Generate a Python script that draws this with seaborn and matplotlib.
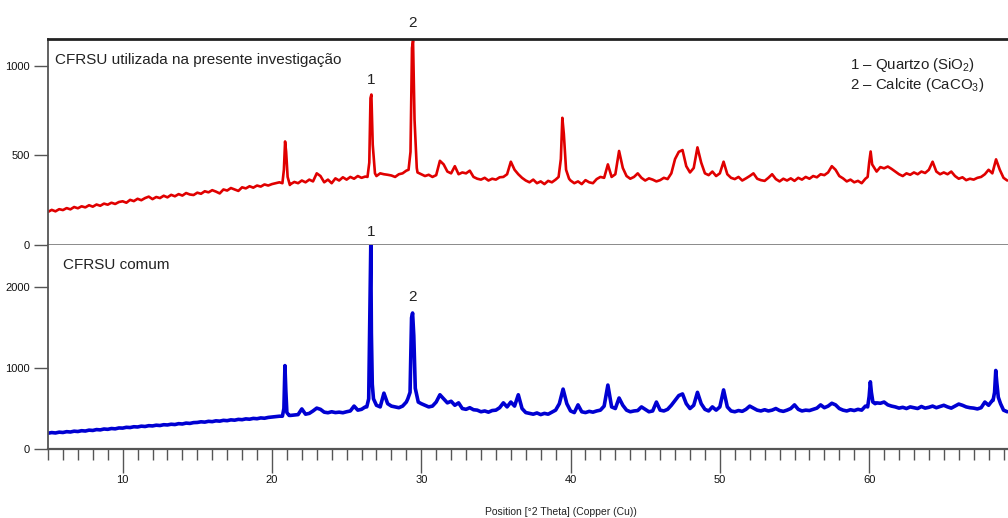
import numpy as np
import pandas as pd
import matplotlib
matplotlib.use("Agg")
import matplotlib.pyplot as plt
import seaborn as sns
from matplotlib import font_manager as fm
from matplotlib.ticker import FixedLocator, MultipleLocator

# ---------------- data ----------------
THETA_START = 5.0      # first sampled 2-theta position
THETA_STEP = 0.25      # sampling interval of the baseline lists

# red pattern: CFRSU utilizada na presente investigação (counts every 0.25°)
red_base = [
    185, 196, 188, 200, 195, 206, 199, 212, 205, 216, 210, 222, 214, 226, 219, 231, 225, 236, 229, 240,
    244, 236, 252, 245, 258, 250, 262, 270, 256, 268, 262, 275, 266, 280, 272, 284, 276, 290, 282, 279,
    292, 286, 300, 294, 306, 298, 288, 310, 304, 318, 310, 302, 322, 316, 328, 320, 332, 326, 338, 332,
    340, 345, 350, 355, 360, 340, 352, 345, 360, 350, 365, 355, 400, 385, 350, 365, 345, 372, 360, 378,
    365, 380, 370, 385, 375, 382, 390, 390, 385, 400, 395, 392, 388, 380, 395, 400, 415, 430, 430, 405,
    395, 385, 392, 380, 390, 470, 450, 410, 400, 440, 395, 405, 400, 415, 380, 370, 365, 375, 360, 370,
    365, 378, 380, 395, 465, 420, 395, 375, 360, 350, 365, 345, 355, 340, 358, 350, 365, 380, 380, 375,
    360, 345, 355, 340, 362, 350, 345, 368, 380, 375, 450, 380, 395, 525, 430, 385, 370, 380, 400, 375,
    360, 372, 365, 355, 362, 375, 368, 400, 480, 520, 530, 440, 405, 430, 545, 460, 400, 390, 410, 385,
    400, 465, 395, 375, 368, 380, 360, 372, 385, 400, 370, 362, 358, 375, 395, 368, 355, 370, 360, 372,
    358, 375, 365, 380, 370, 385, 378, 395, 390, 405, 440, 420, 385, 372, 355, 365, 350, 358, 345, 370,
    460, 440, 410, 435, 428, 438, 425, 410, 395, 385, 400, 392, 405, 395, 410, 402, 420, 465, 410, 395,
    405, 395, 410, 385, 370, 378, 362, 370, 365, 375, 380, 395, 420, 400, 478, 420, 375, 360,
]
# sharp reflections of the red pattern: (2-theta list, counts list)
red_peaks = [
    ([20.70, 20.80, 20.88, 20.95, 21.05, 21.20], [345, 420, 578, 520, 380, 335]),
    ([26.40, 26.52, 26.60, 26.66, 26.75, 26.90], [380, 460, 820, 840, 560, 400]),
    ([29.15, 29.28, 29.38, 29.45, 29.55, 29.70], [420, 520, 1100, 1140, 700, 430]),
    ([39.20, 39.35, 39.45, 39.55, 39.70, 39.90], [380, 480, 710, 620, 420, 370]),
    ([59.90, 60.00, 60.10, 60.20, 60.35], [380, 460, 522, 450, 430]),
]

# blue pattern: CFRSU comum (counts every 0.25°)
blue_base = [
    195, 203, 198, 208, 204, 214, 210, 220, 216, 226, 222, 233, 229, 240, 236, 247, 243, 253, 249, 260,
    258, 268, 265, 275, 272, 282, 278, 288, 285, 294, 290, 300, 297, 306, 302, 313, 309, 320, 316, 326,
    328, 336, 332, 342, 338, 348, 344, 354, 350, 360, 356, 366, 362, 372, 368, 378, 374, 384, 380, 390,
    395, 400, 405, 410, 420, 415, 420, 425, 495, 430, 440, 470, 505, 490, 455, 448, 460, 450, 455, 448,
    460, 470, 530, 480, 490, 520, 600, 600, 560, 520, 690, 560, 530, 520, 510, 530, 580, 600, 600, 600,
    560, 540, 520, 530, 580, 670, 620, 570, 590, 540, 570, 500, 490, 510, 485, 480, 460, 470, 455, 475,
    480, 510, 570, 520, 580, 530, 670, 500, 450, 440, 430, 445, 425, 440, 430, 455, 480, 560, 740, 560,
    470, 450, 545, 460, 450, 465, 455, 470, 480, 530, 790, 520, 500, 630, 540, 480, 460, 470, 475, 520,
    490, 460, 470, 580, 480, 470, 490, 540, 600, 660, 680, 560, 500, 540, 700, 560, 490, 470, 520, 480,
    520, 730, 520, 470, 460, 475, 465, 490, 530, 505, 480, 470, 485, 470, 480, 500, 475, 465, 480, 500,
    545, 490, 470, 480, 475, 490, 505, 545, 510, 530, 565, 545, 500, 480, 470, 485, 475, 490, 480, 530,
    600, 600, 570, 565, 580, 545, 530, 520, 505, 515, 500, 520, 510, 500, 525, 505, 515, 530, 510, 525,
    540, 520, 505, 530, 555, 540, 520, 510, 505, 495, 510, 580, 540, 600, 970, 640, 480, 460,
]
blue_peaks = [
    ([20.70, 20.80, 20.87, 20.93, 21.00, 21.15], [405, 500, 1030, 720, 450, 415]),
    ([26.35, 26.48, 26.56, 26.62, 26.66, 26.72, 26.80, 27.00], [520, 620, 1720, 2520, 1430, 800, 620, 540]),
    ([29.10, 29.25, 29.35, 29.42, 29.50, 29.60, 29.80], [620, 700, 1620, 1680, 1400, 750, 580]),
    ([59.90, 60.00, 60.08, 60.15, 60.25, 60.40], [520, 650, 830, 700, 580, 560]),
    ([68.30, 68.40, 68.48, 68.55, 68.65, 68.80], [600, 700, 970, 820, 640, 560]),
]

# peak identification labels: (2-theta, counts position, text)
red_labels = [(26.64, 920, "1"), (29.42, 1240, "2")]
blue_labels = [(26.64, 2680, "1"), (29.42, 1880, "2")]

x_ticks = [10, 20, 30, 40, 50, 60]
red_yticks = [0, 500, 1000]
blue_yticks = [0, 1000, 2000]
legend_lines = ["1 \u2013 Quartzo (SiO$_{2}$)", "2 \u2013 Calcite (CaCO$_{3}$)"]
red_title = "CFRSU utilizada na presente investigação"
blue_title = "CFRSU comum"
x_label = "Position [°2 Theta] (Copper (Cu))"


def build(base, peaks):
    x = THETA_START + THETA_STEP * np.arange(len(base))
    y = np.asarray(base, dtype=float)
    keep = np.ones(len(x), dtype=bool)
    for px, _ in peaks:
        keep &= ~((x >= px[0]) & (x <= px[-1]))
    xs = np.concatenate([x[keep]] + [np.asarray(p[0], float) for p in peaks])
    ys = np.concatenate([y[keep]] + [np.asarray(p[1], float) for p in peaks])
    order = np.argsort(xs, kind="stable")
    return pd.DataFrame({"theta": xs[order], "counts": ys[order]})


red_df = build(red_base, red_peaks)
blue_df = build(blue_base, blue_peaks)

# ---------------- style ----------------
sns.set_theme(style="white")
names = {f.name for f in fm.fontManager.ttflist}
narrow = "Liberation Sans Narrow" if "Liberation Sans Narrow" in names else "Liberation Sans"
plt.rcParams["font.family"] = ["Liberation Sans", "DejaVu Sans"]
plt.rcParams["mathtext.fontset"] = "custom"
plt.rcParams["mathtext.rm"] = "Liberation Sans"
plt.rcParams["mathtext.it"] = "Liberation Sans:italic"

W, H = 1008, 518
fig = plt.figure(figsize=(W / 100, H / 100), dpi=100)
left = 48 / W
ax_top = fig.add_axes([left, (H - 245) / H, 1 - left, 206 / H])
ax_bot = fig.add_axes([left, (H - 449) / H, 1 - left, 204 / H])

sns.lineplot(data=red_df, x="theta", y="counts", ax=ax_top, color="#e00000",
             linewidth=1.9, sort=False, estimator=None)
sns.lineplot(data=blue_df, x="theta", y="counts", ax=ax_bot, color="#0000d2",
             linewidth=2.6, sort=False, estimator=None)

XMIN, XMAX = 5.0, 69.3
for ax in (ax_top, ax_bot):
    ax.set_xlim(XMIN, XMAX)
    ax.set_xlabel("")
    ax.set_ylabel("")
    ax.spines["right"].set_visible(False)
    ax.spines["left"].set_color("#555555")
    ax.spines["left"].set_linewidth(1.3)
    ax.tick_params(axis="y", direction="out", length=10, width=1.0, color="#555555",
                   pad=3, labelsize=8, left=True)

ax_top.set_ylim(0, 1150)
ax_top.yaxis.set_major_locator(FixedLocator(red_yticks))
ax_top.set_yticklabels([str(v) for v in red_yticks], fontfamily=narrow, fontsize=8, color="#111111")
ax_top.spines["top"].set_color("#222222")
ax_top.spines["top"].set_linewidth(2.0)
ax_top.spines["bottom"].set_color("#777777")
ax_top.spines["bottom"].set_linewidth(1.2)
ax_top.tick_params(axis="x", bottom=False, labelbottom=False)

ax_bot.set_ylim(0, 2520)
ax_bot.yaxis.set_major_locator(FixedLocator(blue_yticks))
ax_bot.set_yticklabels([str(v) for v in blue_yticks], fontfamily=narrow, fontsize=8, color="#111111")
ax_bot.spines["top"].set_visible(False)
ax_bot.spines["bottom"].set_color("#555555")
ax_bot.spines["bottom"].set_linewidth(1.6)
ax_bot.xaxis.set_major_locator(FixedLocator(x_ticks))
ax_bot.xaxis.set_minor_locator(MultipleLocator(1))
ax_bot.set_xticklabels([str(v) for v in x_ticks], fontfamily=narrow, fontsize=8, color="#111111")
ax_bot.tick_params(axis="x", which="major", direction="out", length=17, width=1.0,
                   color="#555555", pad=2, bottom=True)
ax_bot.tick_params(axis="x", which="minor", direction="out", length=8, width=1.0,
                   color="#555555", bottom=True)

# panel captions
ax_top.text(0.0073, 0.90, red_title, transform=ax_top.transAxes, fontsize=11,
            color="#222222", va="center", ha="left")
ax_bot.text(0.0156, 0.90, blue_title, transform=ax_bot.transAxes, fontsize=11,
            color="#222222", va="center", ha="left")

# legend text for peak numbers
ax_top.text(0.8354, 0.872, legend_lines[0], transform=ax_top.transAxes, fontsize=10.8,
            color="#222222", va="center", ha="left")
ax_top.text(0.8354, 0.775, legend_lines[1], transform=ax_top.transAxes, fontsize=10.8,
            color="#222222", va="center", ha="left")

for x, y, t in red_labels:
    ax_top.text(x, y, t, fontsize=11, color="#222222", ha="center", va="center", clip_on=False)
for x, y, t in blue_labels:
    ax_bot.text(x, y, t, fontsize=11, color="#222222", ha="center", va="center", clip_on=False)

fig.text(561 / W, (H - 512) / H, x_label, fontsize=7.5, fontfamily=narrow,
         color="#222222", ha="center", va="center")

fig.savefig("out.png", dpi=100)
